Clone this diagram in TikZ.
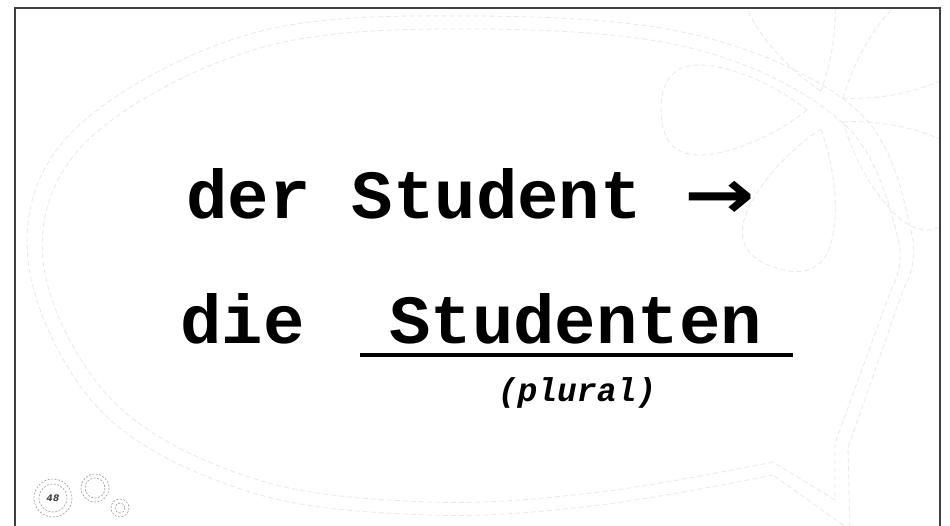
\documentclass[tikz,border=0pt]{standalone}
\usepackage{fontspec}
\newfontfamily\monofam{Liberation Mono}
\newfontfamily\djv{DejaVu Sans}
\tikzset{
  bigtxt/.style={inner sep=0pt, anchor=base west, text=black,
    font=\monofam\bfseries\fontsize{69}{80}\selectfont},
  smalltxt/.style={inner sep=0pt, anchor=base, text=black,
    font=\monofam\bfseries\itshape\fontsize{33}{40}\selectfont},
  faint/.style={draw=black!9, line width=0.8pt, dash pattern=on 5pt off 3pt},
  circ/.style={draw=black!40, line width=0.6pt, dash pattern=on 2pt off 1.5pt},
  framel/.style={draw=black!75, line width=1.5pt},
}
\begin{document}
\begin{tikzpicture}[x=1pt,y=-1pt]
\useasboundingbox (0,0) rectangle (950,525);
\fill[white] (0,0) rectangle (950,525);
% faint speech bubble (double dashed outline)
\draw[faint] plot[smooth, tension=0.6] coordinates {(773,475) (600,505) (430,515) (250,492) (100,410) (28,260) (72,132) (250,34) (475,16) (700,36) (860,113) (912,235) (903,290)} -- (848,448) -- (850,530) -- (773,475);
\draw[faint] plot[smooth, tension=0.6] coordinates {(773,462) (600,492) (430,502) (255,479) (112,400) (43,260) (88,140) (260,48) (475,29) (695,49) (845,125) (898,238) (891,290)} -- (835,443) -- (835,500) -- (773,462);
% faint flower
\begin{scope}
\clip (15,8) rectangle (940,525);
\foreach \a in {180,108,36,-36,-108}{
  \begin{scope}[shift={(827,110)}, rotate=\a]
    \draw[faint] (20,0) .. controls (55,-28) and (100,-45) .. (128,-45)
      .. controls (160,-45) and (166,-20) .. (166,0)
      .. controls (166,20) and (160,45) .. (128,45)
      .. controls (100,45) and (55,28) .. (20,0);
  \end{scope}
}
\end{scope}
% frame
\draw[framel] (15,530) -- (15,8) -- (940,8) -- (940,530);
% small circles bottom left
\draw[circ] (53,498) circle[radius=19];
\draw[circ] (53,498) circle[radius=14];
\node[inner sep=0pt, text=black!75, font=\djv\bfseries\itshape\fontsize{9}{10}\selectfont] (pg) at (53,498) {48};
\draw[circ] (95,488) circle[radius=14];
\draw[circ] (95,488) circle[radius=10];
\draw[circ] (120,508) circle[radius=9];
\draw[circ] (120,508) circle[radius=5];
% main text
\node[bigtxt] (l1) at (186,218) {der Student};
\node[inner sep=0pt, anchor=base west, font=\djv\bfseries\fontsize{69}{80}\selectfont] (arr) at (684,218) {\scalebox{1.22}[1]{→}};
\node[bigtxt] (die) at (180,343) {die};
\node[bigtxt] (stud) at (389,343) {Studenten};
\coordinate (ulA) at (360,355);
\coordinate (ulB) at (793,355);
\draw[line width=4.5pt] (ulA) -- (ulB);
\node[smalltxt] (pl) at (577,401) {(plural)};
\end{tikzpicture}
\end{document}
